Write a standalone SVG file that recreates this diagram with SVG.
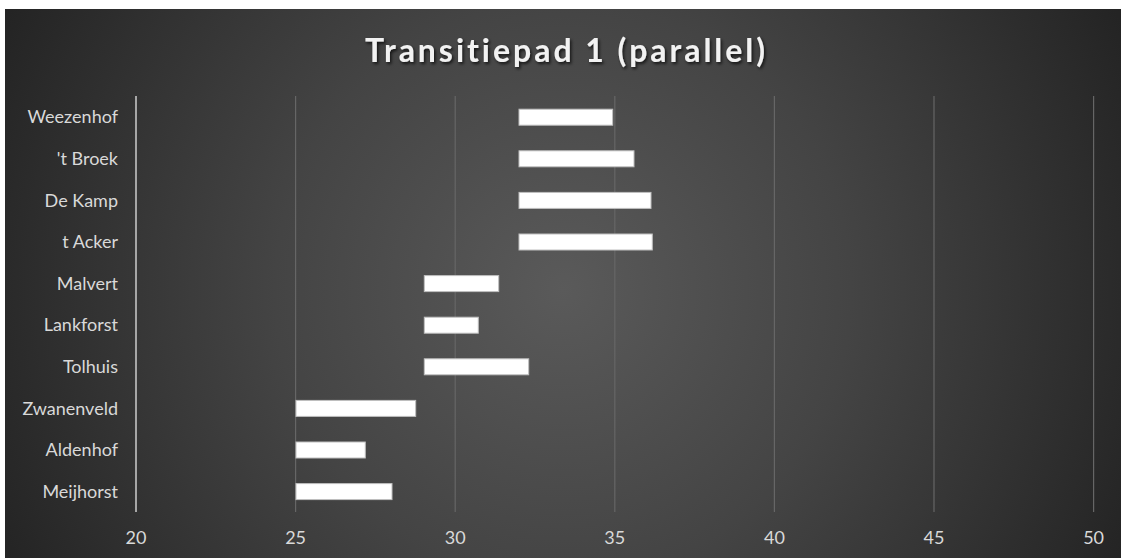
<svg xmlns="http://www.w3.org/2000/svg" width="1121" height="558" viewBox="0 0 1121 558">
<defs>
<radialGradient id="bg" gradientUnits="userSpaceOnUse" cx="563" cy="290" r="640">
<stop offset="0" stop-color="#5a5a5a"/>
<stop offset="0.45" stop-color="#444444"/>
<stop offset="1" stop-color="#222222"/>
</radialGradient>
<filter id="sh" x="-10%" y="-30%" width="120%" height="160%">
<feDropShadow dx="1.5" dy="2" stdDeviation="1.5" flood-color="#000" flood-opacity="0.7"/>
</filter>
<style>
text{font-variant-ligatures:none;font-feature-settings:"liga" 0,"dlig" 0}
.lbl{font-family:"Lato","Liberation Sans",sans-serif;font-size:18px;fill:#d9d9d9;text-anchor:end}
.tick{font-family:"Lato","Liberation Sans",sans-serif;font-size:18px;fill:#d9d9d9;text-anchor:middle}
.grid{stroke:#666666;stroke-width:1.2}
.axis{stroke:#a6a6a6;stroke-width:2}
.bar{fill:#ffffff;stroke:#bfbfbf;stroke-width:1}
.title{font-family:"Lato","Liberation Sans",sans-serif;font-size:32px;font-weight:bold;fill:#f2f2f2;text-anchor:middle}
</style>
</defs>
<rect x="0" y="0" width="1121" height="558" fill="#ffffff"/>
<rect x="5" y="9" width="1116" height="549" fill="url(#bg)"/>
<text class="title" x="565" y="62" textLength="400" lengthAdjust="spacing" filter="url(#sh)">Transitiepad 1 (parallel)</text>
<g id="grid">
<line class="grid" x1="295.6" y1="96" x2="295.6" y2="512"/>
<line class="grid" x1="455.2" y1="96" x2="455.2" y2="512"/>
<line class="grid" x1="614.8" y1="96" x2="614.8" y2="512"/>
<line class="grid" x1="774.4" y1="96" x2="774.4" y2="512"/>
<line class="grid" x1="934" y1="96" x2="934" y2="512"/>
<line class="grid" x1="1093.6" y1="96" x2="1093.6" y2="512"/>
<line class="axis" x1="136" y1="96" x2="136" y2="512"/>
</g>
<g id="xticks">
<text class="tick" x="136" y="544">20</text>
<text class="tick" x="295.6" y="544">25</text>
<text class="tick" x="455.2" y="544">30</text>
<text class="tick" x="614.8" y="544">35</text>
<text class="tick" x="774.4" y="544">40</text>
<text class="tick" x="934" y="544">45</text>
<text class="tick" x="1093.6" y="544">50</text>
</g>
<g id="weezenhof"><text class="lbl" x="118" y="123.3">Weezenhof</text><rect class="bar" x="519" y="109.2" width="93.7" height="16"/></g>
<g id="tbroek"><text class="lbl" x="118" y="164.9">'t Broek</text><rect class="bar" x="519" y="150.8" width="115" height="16"/></g>
<g id="dekamp"><text class="lbl" x="118" y="206.5">De Kamp</text><rect class="bar" x="519" y="192.4" width="132" height="16"/></g>
<g id="tacker"><text class="lbl" x="118" y="248.1">t Acker</text><rect class="bar" x="519" y="234" width="133.3" height="16"/></g>
<g id="malvert"><text class="lbl" x="118" y="289.7">Malvert</text><rect class="bar" x="424.3" y="275.6" width="74.4" height="16"/></g>
<g id="lankforst"><text class="lbl" x="118" y="331.3">Lankforst</text><rect class="bar" x="424.3" y="317.2" width="54" height="16"/></g>
<g id="tolhuis"><text class="lbl" x="118" y="372.9">Tolhuis</text><rect class="bar" x="424.3" y="358.8" width="104.4" height="16"/></g>
<g id="zwanenveld"><text class="lbl" x="118" y="414.5">Zwanenveld</text><rect class="bar" x="296" y="400.4" width="119.7" height="16"/></g>
<g id="aldenhof"><text class="lbl" x="118" y="456.1">Aldenhof</text><rect class="bar" x="296" y="442" width="69.3" height="16"/></g>
<g id="meijhorst"><text class="lbl" x="118" y="497.7">Meijhorst</text><rect class="bar" x="296" y="483.6" width="96" height="16"/></g>
</svg>
